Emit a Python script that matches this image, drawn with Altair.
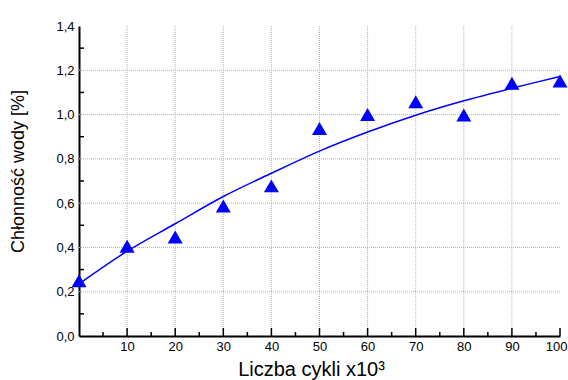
import altair as alt
import pandas as pd

# measured points (Liczba cykli x10^3, Chłonność wody %)
cycles = [0, 10, 20, 30, 40, 50, 60, 70, 80, 90, 100]
absorption = [0.25, 0.405, 0.447, 0.587, 0.678, 0.937, 1.0, 1.058, 0.998, 1.141, 1.152]

# fitted curve
fit_x = [0, 10, 20, 30, 40, 50, 60, 70, 80, 90, 100]
fit_y = [0.235, 0.383, 0.507, 0.630, 0.735, 0.835, 0.921, 0.997, 1.062, 1.119, 1.172]

x_labels = [10, 20, 30, 40, 50, 60, 70, 80, 90, 100]
y_labels = [0.0, 0.2, 0.4, 0.6, 0.8, 1.0, 1.2, 1.4]
x_grid = [10, 20, 30, 40, 50, 60, 70, 80, 90]
y_grid = [0.2, 0.4, 0.6, 0.8, 1.0, 1.2]
x_major_ticks = [10, 20, 30, 40, 50, 60, 70, 80, 90, 100]
x_minor_ticks = [5, 15, 25, 35, 45, 55, 65, 75, 85, 95]
y_minor_ticks = [0.1, 0.3, 0.5, 0.7, 0.9, 1.1, 1.3]

FONT = "Liberation Sans"
W, H = 481, 310

pts = pd.DataFrame({"x": cycles, "y": absorption})
fit = pd.DataFrame({"x": fit_x, "y": fit_y})

xs = alt.Scale(domain=[0, 100], nice=False, zero=False)
ys = alt.Scale(domain=[0, 1.4], nice=False, zero=False)

x_axis = alt.Axis(title="Liczba cykli x10³", values=x_labels, ticks=False, grid=False,
                  domainColor="black", domainWidth=2, labelFont=FONT, labelFontSize=13,
                  labelColor="black", labelPadding=4, titleFont=FONT, titleFontSize=20,
                  titleFontWeight="normal", titleColor="black", titlePadding=6,
                  titleX=232, titleAlign="center", labelFlush=True, labelFlushOffset=7)
y_axis = alt.Axis(title="Chłonność wody [%]", values=y_labels, ticks=False, grid=False,
                  domainColor="black", domainWidth=2, labelFont=FONT, labelFontSize=13,
                  labelColor="black", labelPadding=5,
                  labelExpr="replace(format(datum.value, '.1f'), '.', ',')",
                  titleFont=FONT, titleFontSize=18, titleFontWeight="normal",
                  titleColor="black", titleAngle=-90, titleX=-61, titleY=145,
                  titleAlign="center", titleBaseline="middle", labelFlush=False)

grid_style = dict(color="#b4b4b4", strokeWidth=1, strokeDash=[1, 1])

xgrid = alt.Chart(pd.DataFrame({"x": x_grid})).mark_rule(**grid_style).encode(
    x=alt.X("x:Q", scale=xs, axis=x_axis), y=alt.value(0), y2=alt.value(H))
ygrid = alt.Chart(pd.DataFrame({"y": y_grid})).mark_rule(**grid_style).encode(
    y=alt.Y("y:Q", scale=ys, axis=y_axis), x=alt.value(0), x2=alt.value(W))

line = alt.Chart(fit).mark_line(color="#0000ff", strokeWidth=1.5, interpolate="catmull-rom").encode(
    x=alt.X("x:Q", scale=xs), y=alt.Y("y:Q", scale=ys))

points = alt.Chart(pts).mark_point(shape="triangle-up", filled=True, color="#0000ff",
                                   size=225, opacity=1).encode(
    x=alt.X("x:Q", scale=xs), y=alt.Y("y:Q", scale=ys))

xmaj = alt.Chart(pd.DataFrame({"x": x_major_ticks})).mark_rule(color="black", strokeWidth=1.5).encode(
    x=alt.X("x:Q", scale=xs), y=alt.value(H), y2=alt.value(H - 8))
xmin = alt.Chart(pd.DataFrame({"x": x_minor_ticks})).mark_rule(color="black", strokeWidth=1.5).encode(
    x=alt.X("x:Q", scale=xs), y=alt.value(H), y2=alt.value(H - 4))
ymin = alt.Chart(pd.DataFrame({"y": y_minor_ticks})).mark_rule(color="black", strokeWidth=1.5).encode(
    y=alt.Y("y:Q", scale=ys), x=alt.value(0), x2=alt.value(5))

chart = alt.layer(xgrid, ygrid, line, points, xmaj, xmin, ymin).properties(
    width=W, height=H,
    autosize=alt.AutoSizeParams(type="none"),
    padding={"left": 79, "top": 26, "right": 8, "bottom": 44},
    background="white",
).configure_view(stroke=None)

chart.save("out.html", embed_options={"renderer": "svg", "actions": False})
